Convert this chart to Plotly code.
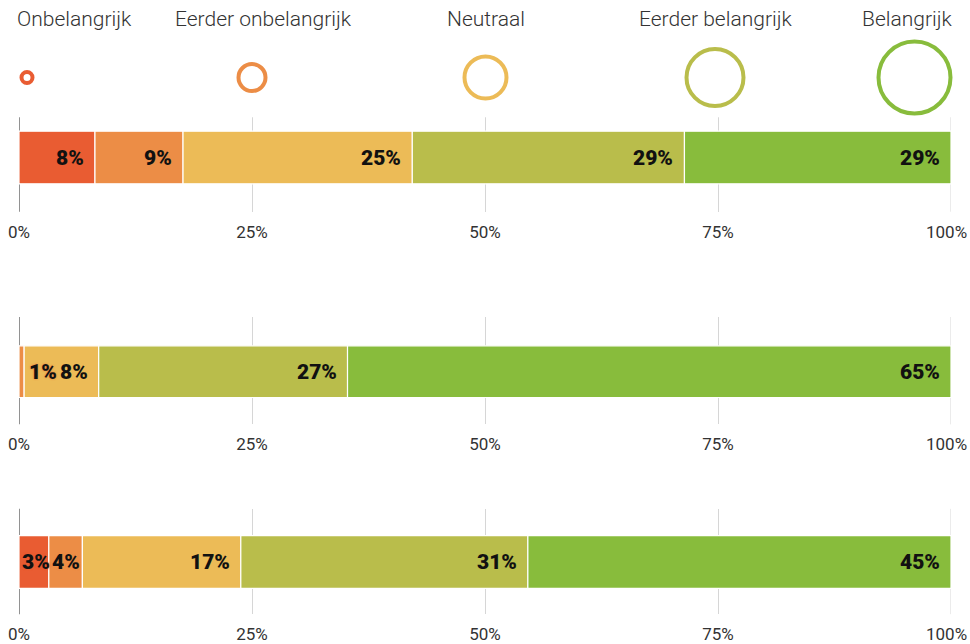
import plotly.graph_objects as go

# ---------------- data ----------------
levels = ["Onbelangrijk", "Eerder onbelangrijk", "Neutraal", "Eerder belangrijk", "Belangrijk"]
colors = ["#E95C32", "#EC8D46", "#ECBB57", "#B9BD4B", "#88BC3C"]

row1 = [8.15, 9.45, 24.6, 29.2, 28.6]
row2 = [0.0, 0.55, 8.0, 26.7, 64.75]
row3 = [3.2, 3.6, 17.0, 30.8, 45.4]
rows = [row1, row2, row3]

tick_vals = [0, 25, 50, 75, 100]
tick_text = ["0%", "25%", "50%", "75%", "100%"]

# ---------------- layout constants ----------------
W, H = 970, 644
L, R = 19, 19
plot_w = W - L - R

def py(px):
    return 1 - px / H

def px_x(px):
    return (px - L) / plot_w

XR = [0, 100]
TICK_FONT = dict(family="Roboto, sans-serif", size=17, color="#333")

# grid extents (top, bottom) and bar (top, bottom) in screen pixels per panel
panels = [((117, 213), (132, 185)),
          ((319, 427), (348, 400)),
          ((512, 618), (539, 592))]

fig = go.Figure()
shapes = []
annotations = []

for i, (vals, ((gt, gb), (bt, bb))) in enumerate(zip(rows, panels)):
    n = i + 1
    xa = "x" if n == 1 else f"x{n}"
    ya = "y" if n == 1 else f"y{n}"
    bh = bb - bt
    center = (bt + bb) / 2
    yrange = [-(gb - center) / bh, (center - gt) / bh]

    cum = 0.0
    for j, v in enumerate(vals):
        fig.add_trace(go.Bar(
            x=[v], y=[0], base=[cum], orientation="h", width=1,
            marker=dict(color=colors[j], line=dict(color="white", width=1.2)),
            xaxis=xa, yaxis=ya, showlegend=False, hoverinfo="skip",
        ))
        start, end = cum, cum + v
        cum = end
        if v <= 0:
            continue
        label = f"{v:.0f}%"
        if v < 2:
            ax_x, anchor, shift = end, "left", 3
        elif v < 5:
            ax_x, anchor, shift = start, "left", 1
        else:
            ax_x, anchor, shift = end, "right", -9
        font = dict(family="Roboto, sans-serif", size=21, color="#111", weight=900)
        if v < 5:
            font["shadow"] = f"0 0 2px {colors[j]}, 0 0 2px {colors[j]}"
        annotations.append(dict(
            x=ax_x, y=0, xref=xa, yref=ya, text=label, showarrow=False,
            xanchor=anchor, yanchor="middle", xshift=shift, font=font,
        ))

    # inner tick labels through the axis; the last one (at the right edge) as a
    # right-aligned annotation so it stays inside the page
    axis_x = dict(
        domain=[0, 1], range=XR, tickvals=tick_vals[:-1], ticktext=tick_text[:-1],
        showgrid=True, gridcolor="#D6D6D6", gridwidth=1, zeroline=False,
        showline=False, ticks="", ticklabelstandoff=8, ticklabeloverflow="allow",
        tickfont=TICK_FONT, fixedrange=True,
    )
    axis_y = dict(
        domain=[py(gb), py(gt)], range=yrange, showgrid=False, zeroline=False,
        showticklabels=False, showline=False, ticks="", fixedrange=True,
    )
    if n > 1:
        axis_x["anchor"] = ya
        axis_y["anchor"] = xa
    fig.update_layout(**{("xaxis" if n == 1 else f"xaxis{n}"): axis_x,
                         ("yaxis" if n == 1 else f"yaxis{n}"): axis_y})

    annotations.append(dict(
        x=tick_vals[-1], y=0, xref=xa, yref=f"{ya} domain", text=tick_text[-1],
        showarrow=False, xanchor="right", yanchor="middle", xshift=R - 1, yshift=-20,
        font=TICK_FONT,
    ))

    # baseline at 0% and closing gridline at 100%
    shapes.append(dict(type="line", xref=xa, yref=f"{ya} domain", x0=0, x1=0, y0=0, y1=1,
                       line=dict(color="#6E6E6E", width=1.5), layer="below"))
    shapes.append(dict(type="line", xref=xa, yref=f"{ya} domain", x0=100, x1=100, y0=0, y1=1,
                       line=dict(color="#D6D6D6", width=1), layer="below"))

# ---------------- legend (circles + labels) ----------------
legend_cx = [27, 252, 485.5, 715, 914.5]
legend_size = [11, 27, 42, 57, 72]
fig.add_trace(go.Scatter(
    x=[(c - L) / plot_w * 100 for c in legend_cx], y=[0.5] * 5, mode="markers",
    marker=dict(size=legend_size, symbol="circle-open", color=colors, opacity=1,
                line=dict(width=4)),
    xaxis="x4", yaxis="y4", showlegend=False, hoverinfo="skip", cliponaxis=False,
))
fig.update_layout(
    xaxis4=dict(domain=[0, 1], range=XR, visible=False, anchor="y4", fixedrange=True),
    yaxis4=dict(domain=[py(118), py(38)], range=[0, 1], visible=False, anchor="x4", fixedrange=True),
)

label_pos = [(15, "left"), (263.5, "center"), (485.5, "center"), (715, "center"), (955, "right")]
for name, (lx, anc) in zip(levels, label_pos):
    annotations.append(dict(
        x=px_x(lx), y=py(19), xref="paper", yref="paper", text=name, showarrow=False,
        xanchor=anc, yanchor="middle",
        font=dict(family="Roboto, sans-serif", size=21, color="#333", weight=300),
    ))

fig.update_layout(
    width=W, height=H, margin=dict(l=L, r=R, t=0, b=0),
    paper_bgcolor="white", plot_bgcolor="white",
    barmode="overlay", shapes=shapes, annotations=annotations,
    font=dict(family="Roboto, sans-serif"),
)

fig.write_html(
    "out.html",
    config={"displayModeBar": False, "staticPlot": True},
    post_script=(
        "document.body.style.margin='0';"
        "document.body.style.overflow='hidden';"
        "document.documentElement.style.overflow='hidden';"
    ),
)
